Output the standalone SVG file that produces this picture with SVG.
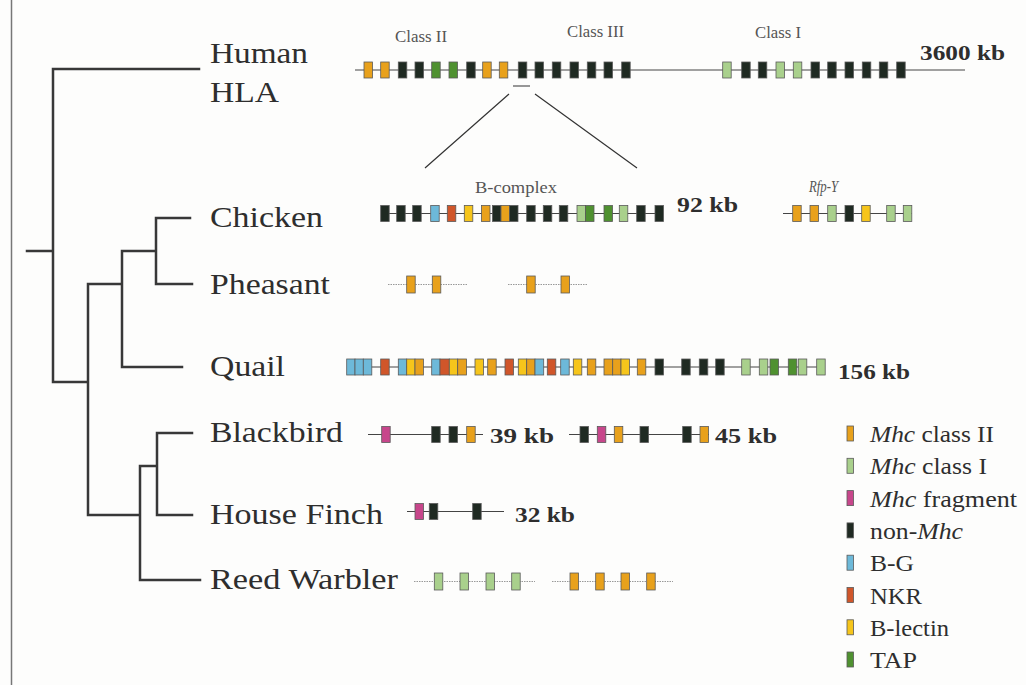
<svg xmlns="http://www.w3.org/2000/svg" width="1026" height="685" viewBox="0 0 1026 685">
<style>
.bg{fill:#fdfdfc}
text{font-family:"Times New Roman","Liberation Serif",Tinos,Times,serif}
.sp{font-size:30px;fill:#2e2e2e}
.kb{font-size:21px;font-weight:bold;fill:#2e2e2e}
.cl{font-size:16.5px;fill:#555}
.lg{font-size:24px;fill:#2e2e2e}
.tree{fill:none;stroke:#383838;stroke-width:2.5;stroke-linecap:square}
.gl{stroke:#444;stroke-width:1}
.dl{stroke:#999;stroke-width:1;stroke-dasharray:1.5 1}
.gene rect{stroke:#5a5a5a;stroke-width:0.8}
.o{fill:#E8A11C}.g{fill:#A9D08C}.m{fill:#C7468B}.k{fill:#1F2A22}.b{fill:#6DB9D9}.r{fill:#D0562A}.y{fill:#F6C51B}.t{fill:#4F9130}
</style>
<rect class="bg" x="0" y="0" width="1026" height="685"/>
<line x1="11.5" y1="0" x2="11.5" y2="685" stroke="#777" stroke-width="1.5"/>

<g id="connectors">
<path class="tree" d="M27 251H53 M53 69V382 M53 69H199 M53 382H88 M88 284V515 M88 284H122 M88 515H140 M122 251V367 M122 251H156 M122 367H182 M156 218V284 M156 218H190 M156 284H192 M140 466V580 M140 466H157 M140 580H200 M157 433V515 M157 433H192 M157 515H192"/>
<path d="M513 86H530 M509 94L425 168 M535 94L637 168" stroke="#333" stroke-width="1.2" fill="none"/>
</g>

<g id="human">
<text class="sp" x="210" y="63" textLength="98" lengthAdjust="spacingAndGlyphs">Human</text>
<text class="sp" x="210" y="102" textLength="69" lengthAdjust="spacingAndGlyphs">HLA</text>
<text class="cl" x="395" y="42" textLength="52" lengthAdjust="spacingAndGlyphs">Class II</text>
<text class="cl" x="567" y="37" textLength="57" lengthAdjust="spacingAndGlyphs">Class III</text>
<text class="cl" x="755" y="38" textLength="46" lengthAdjust="spacingAndGlyphs">Class I</text>
<text class="kb" x="920" y="60" textLength="85" lengthAdjust="spacingAndGlyphs">3600 kb</text>
<line class="gl" x1="355" y1="70" x2="965" y2="70"/>
<g class="gene">
<rect class="o" x="364" y="62" width="8.5" height="16"/>
<rect class="o" x="380.7" y="62" width="8.5" height="16"/>
<rect class="k" x="398.3" y="62" width="8.5" height="16"/>
<rect class="k" x="415" y="62" width="8.5" height="16"/>
<rect class="t" x="431.7" y="62" width="8.5" height="16"/>
<rect class="t" x="449" y="62" width="8.5" height="16"/>
<rect class="k" x="466.7" y="62" width="8.5" height="16"/>
<rect class="o" x="482.7" y="62" width="8.5" height="16"/>
<rect class="o" x="499.3" y="62" width="8.5" height="16"/>
<rect class="k" x="518.3" y="62" width="8.5" height="16"/>
<rect class="k" x="535" y="62" width="8.5" height="16"/>
<rect class="k" x="552.3" y="62" width="8.5" height="16"/>
<rect class="k" x="570" y="62" width="8.5" height="16"/>
<rect class="k" x="587.3" y="62" width="8.5" height="16"/>
<rect class="k" x="604" y="62" width="8.5" height="16"/>
<rect class="k" x="621.7" y="62" width="8.5" height="16"/>
<rect class="g" x="722.7" y="62" width="8.5" height="16"/>
<rect class="k" x="741.7" y="62" width="8.5" height="16"/>
<rect class="k" x="758.3" y="62" width="8.5" height="16"/>
<rect class="g" x="776" y="62" width="8.5" height="16"/>
<rect class="g" x="793.3" y="62" width="8.5" height="16"/>
<rect class="k" x="811" y="62" width="8.5" height="16"/>
<rect class="k" x="827.7" y="62" width="8.5" height="16"/>
<rect class="k" x="845" y="62" width="8.5" height="16"/>
<rect class="k" x="862.3" y="62" width="8.5" height="16"/>
<rect class="k" x="879.3" y="62" width="8.5" height="16"/>
<rect class="k" x="896.7" y="62" width="8.5" height="16"/>
</g>
</g>

<g id="chicken">
<text class="sp" x="210" y="227" textLength="113" lengthAdjust="spacingAndGlyphs">Chicken</text>
<text class="cl" x="475" y="193" textLength="82" lengthAdjust="spacingAndGlyphs">B-complex</text>
<text class="cl" x="809" y="192" textLength="29" lengthAdjust="spacingAndGlyphs" font-style="italic">Rfp-Y</text>
<text class="kb" x="677" y="212" textLength="61" lengthAdjust="spacingAndGlyphs">92 kb</text>
<line class="gl" x1="381" y1="213.5" x2="663" y2="213.5"/>
<line class="gl" x1="783" y1="213.5" x2="912" y2="213.5"/>
<g class="gene">
<rect class="k" x="380.7" y="205.5" width="8.5" height="16"/>
<rect class="k" x="396.7" y="205.5" width="8.5" height="16"/>
<rect class="k" x="412.7" y="205.5" width="8.5" height="16"/>
<rect class="b" x="430.7" y="205.5" width="8.5" height="16"/>
<rect class="r" x="447.3" y="205.5" width="8.5" height="16"/>
<rect class="y" x="464.3" y="205.5" width="8.5" height="16"/>
<rect class="o" x="481.5" y="205.5" width="8.5" height="16"/>
<rect class="k" x="492.5" y="205.5" width="8.5" height="16"/>
<rect class="o" x="501" y="205.5" width="8.5" height="16"/>
<rect class="k" x="509.5" y="205.5" width="8.5" height="16"/>
<rect class="k" x="526.7" y="205.5" width="8.5" height="16"/>
<rect class="k" x="543.3" y="205.5" width="8.5" height="16"/>
<rect class="k" x="559.3" y="205.5" width="8.5" height="16"/>
<rect class="g" x="577" y="205.5" width="8.5" height="16"/>
<rect class="t" x="585.5" y="205.5" width="8.5" height="16"/>
<rect class="t" x="604" y="205.5" width="8.5" height="16"/>
<rect class="g" x="619.3" y="205.5" width="8.5" height="16"/>
<rect class="k" x="636.7" y="205.5" width="8.5" height="16"/>
<rect class="k" x="655" y="205.5" width="8.5" height="16"/>
<rect class="o" x="792.7" y="205.5" width="8.5" height="16"/>
<rect class="o" x="810" y="205.5" width="8.5" height="16"/>
<rect class="g" x="827.7" y="205.5" width="8.5" height="16"/>
<rect class="k" x="845" y="205.5" width="8.5" height="16"/>
<rect class="y" x="861.7" y="205.5" width="8.5" height="16"/>
<rect class="g" x="886.7" y="205.5" width="8.5" height="16"/>
<rect class="g" x="903.3" y="205.5" width="8.5" height="16"/>
</g>
</g>

<g id="pheasant">
<text class="sp" x="210" y="294" textLength="120" lengthAdjust="spacingAndGlyphs">Pheasant</text>
<line class="dl" x1="388" y1="284.5" x2="467" y2="284.5"/>
<line class="dl" x1="508" y1="284.5" x2="587" y2="284.5"/>
<g class="gene">
<rect class="o" x="406.7" y="276" width="8.5" height="17"/>
<rect class="o" x="432.3" y="276" width="8.5" height="17"/>
<rect class="o" x="526.7" y="276" width="8.5" height="17"/>
<rect class="o" x="561" y="276" width="8.5" height="17"/>
</g>
</g>

<g id="quail">
<text class="sp" x="210" y="376" textLength="75" lengthAdjust="spacingAndGlyphs">Quail</text>
<text class="kb" x="838" y="379" textLength="72" lengthAdjust="spacingAndGlyphs">156 kb</text>
<line class="gl" x1="347" y1="367" x2="825" y2="367"/>
<g class="gene">
<rect class="b" x="346.7" y="359" width="8.3" height="16"/>
<rect class="b" x="355" y="359" width="8.3" height="16"/>
<rect class="b" x="363.3" y="359" width="8.5" height="16"/>
<rect class="r" x="380.7" y="359" width="8.5" height="16"/>
<rect class="b" x="398.3" y="359" width="8.4" height="16"/>
<rect class="y" x="406.7" y="359" width="8.3" height="16"/>
<rect class="o" x="415" y="359" width="8.4" height="16"/>
<rect class="b" x="431.7" y="359" width="8.3" height="16"/>
<rect class="r" x="440" y="359" width="9.3" height="16"/>
<rect class="y" x="449.3" y="359" width="8.4" height="16"/>
<rect class="o" x="457.7" y="359" width="8.8" height="16"/>
<rect class="y" x="475" y="359" width="8.5" height="16"/>
<rect class="o" x="487.7" y="359" width="8.5" height="16"/>
<rect class="r" x="505" y="359" width="8.5" height="16"/>
<rect class="y" x="518.3" y="359" width="8.4" height="16"/>
<rect class="o" x="526.7" y="359" width="8.3" height="16"/>
<rect class="b" x="535" y="359" width="8.7" height="16"/>
<rect class="r" x="547.3" y="359" width="8.5" height="16"/>
<rect class="b" x="560.7" y="359" width="8.5" height="16"/>
<rect class="y" x="573.3" y="359" width="8.5" height="16"/>
<rect class="o" x="587.3" y="359" width="8.5" height="16"/>
<rect class="o" x="604" y="359" width="8.7" height="16"/>
<rect class="o" x="612.7" y="359" width="8.3" height="16"/>
<rect class="y" x="621" y="359" width="8.5" height="16"/>
<rect class="o" x="637.3" y="359" width="8.5" height="16"/>
<rect class="k" x="655" y="359" width="8.5" height="16"/>
<rect class="k" x="681.7" y="359" width="8.5" height="16"/>
<rect class="k" x="699.3" y="359" width="8.5" height="16"/>
<rect class="k" x="715.7" y="359" width="8.5" height="16"/>
<rect class="g" x="741.7" y="359" width="8.5" height="16"/>
<rect class="g" x="759.3" y="359" width="8.5" height="16"/>
<rect class="t" x="770" y="359" width="8.5" height="16"/>
<rect class="t" x="788.3" y="359" width="8.5" height="16"/>
<rect class="g" x="798.3" y="359" width="8.5" height="16"/>
<rect class="g" x="816.7" y="359" width="8.5" height="16"/>
</g>
</g>

<g id="blackbird">
<text class="sp" x="210" y="442" textLength="133" lengthAdjust="spacingAndGlyphs">Blackbird</text>
<text class="kb" x="490" y="443" textLength="64" lengthAdjust="spacingAndGlyphs">39 kb</text>
<text class="kb" x="715" y="443" textLength="62" lengthAdjust="spacingAndGlyphs">45 kb</text>
<line class="gl" x1="368" y1="434.5" x2="483" y2="434.5"/>
<line class="gl" x1="569" y1="434.5" x2="709" y2="434.5"/>
<g class="gene">
<rect class="m" x="381.7" y="426.5" width="8.5" height="16"/>
<rect class="k" x="431.7" y="426.5" width="8.5" height="16"/>
<rect class="k" x="449" y="426.5" width="8.5" height="16"/>
<rect class="o" x="466.7" y="426.5" width="8.5" height="16"/>
<rect class="k" x="580" y="426.5" width="8.5" height="16"/>
<rect class="m" x="597.3" y="426.5" width="8.5" height="16"/>
<rect class="o" x="614.3" y="426.5" width="8.5" height="16"/>
<rect class="k" x="640" y="426.5" width="8.5" height="16"/>
<rect class="k" x="682.7" y="426.5" width="8.5" height="16"/>
<rect class="o" x="700" y="426.5" width="8.5" height="16"/>
</g>
</g>

<g id="house-finch">
<text class="sp" x="210" y="524" textLength="173" lengthAdjust="spacingAndGlyphs">House Finch</text>
<text class="kb" x="515" y="522" textLength="60" lengthAdjust="spacingAndGlyphs">32 kb</text>
<line class="gl" x1="407" y1="511.5" x2="504" y2="511.5"/>
<g class="gene">
<rect class="m" x="415" y="503.5" width="8.5" height="16"/>
<rect class="k" x="429.3" y="503.5" width="8.5" height="16"/>
<rect class="k" x="472.7" y="503.5" width="8.5" height="16"/>
</g>
</g>

<g id="reed-warbler">
<text class="sp" x="210" y="589" textLength="188" lengthAdjust="spacingAndGlyphs">Reed Warbler</text>
<line class="dl" x1="414" y1="581.5" x2="535" y2="581.5"/>
<line class="dl" x1="552" y1="581.5" x2="673" y2="581.5"/>
<g class="gene">
<rect class="g" x="434.3" y="573" width="8.5" height="17"/>
<rect class="g" x="460" y="573" width="8.5" height="17"/>
<rect class="g" x="486" y="573" width="8.5" height="17"/>
<rect class="g" x="511.7" y="573" width="8.5" height="17"/>
<rect class="o" x="570" y="573" width="8.5" height="17"/>
<rect class="o" x="595.7" y="573" width="8.5" height="17"/>
<rect class="o" x="621" y="573" width="8.5" height="17"/>
<rect class="o" x="646.7" y="573" width="8.5" height="17"/>
</g>
</g>

<g id="legend">
<g class="gene">
<rect class="o" x="847" y="426" width="6.5" height="15"/>
<rect class="g" x="847" y="458.3" width="6.5" height="15"/>
<rect class="m" x="847" y="490.6" width="6.5" height="15"/>
<rect class="k" x="847" y="522.9" width="6.5" height="15"/>
<rect class="b" x="847" y="555.2" width="6.5" height="15"/>
<rect class="r" x="847" y="587.5" width="6.5" height="15"/>
<rect class="y" x="847" y="619.8" width="6.5" height="15"/>
<rect class="t" x="847" y="652" width="6.5" height="15"/>
</g>
<text class="lg" x="870" y="442" textLength="124" lengthAdjust="spacingAndGlyphs"><tspan font-style="italic">Mhc</tspan> class II</text>
<text class="lg" x="870" y="474.3" textLength="117" lengthAdjust="spacingAndGlyphs"><tspan font-style="italic">Mhc</tspan> class I</text>
<text class="lg" x="870" y="506.6" textLength="147" lengthAdjust="spacingAndGlyphs"><tspan font-style="italic">Mhc</tspan> fragment</text>
<text class="lg" x="870" y="538.9" textLength="93" lengthAdjust="spacingAndGlyphs">non-<tspan font-style="italic">Mhc</tspan></text>
<text class="lg" x="870" y="571.2" textLength="44" lengthAdjust="spacingAndGlyphs">B-G</text>
<text class="lg" x="870" y="603.5" textLength="52" lengthAdjust="spacingAndGlyphs">NKR</text>
<text class="lg" x="870" y="635.8" textLength="79" lengthAdjust="spacingAndGlyphs">B-lectin</text>
<text class="lg" x="870" y="668" textLength="47" lengthAdjust="spacingAndGlyphs">TAP</text>
</g>
</svg>
